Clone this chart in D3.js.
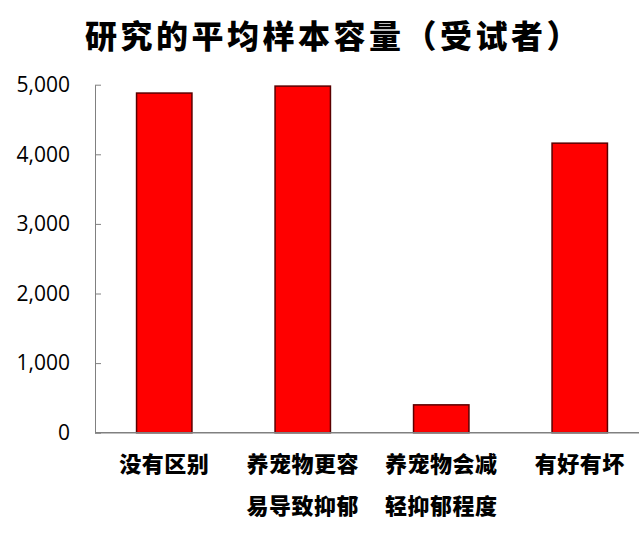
<!DOCTYPE html>
<html>
<head>
<meta charset="utf-8">
<script src="https://cdn.jsdelivr.net/npm/d3@7/dist/d3.min.js"></script>
<style>
html,body{margin:0;padding:0;background:#fff;}
svg{display:block;}
</style>
</head>
<body>
<svg id="chart" width="639" height="538"></svg>
<script>
const title = "研究的平均样本容量（受试者）";
const categories = ["没有区别", "养宠物更容易导致抑郁", "养宠物会减轻抑郁程度", "有好有坏"];
const labelLines = [["没有区别"], ["养宠物更容", "易导致抑郁"], ["养宠物会减", "轻抑郁程度"], ["有好有坏"]];
const values = [4880, 4980, 400, 4160];
const yTicks = [0, 1000, 2000, 3000, 4000, 5000];

const svg = d3.select("#chart");
const W = 639, H = 538;
const plotLeft = 95, plotRight = 649, plotTop = 84.7, plotBottom = 432.7;

const x = d3.scaleBand().domain(categories).range([plotLeft, plotRight]).paddingInner(0.6).paddingOuter(0.3);
const y = d3.scaleLinear().domain([0, 5000]).range([plotBottom, plotTop]);

// title
svg.append("text")
  .attr("x", 85).attr("y", 34)
  .attr("dominant-baseline", "central")
  .attr("font-family", "'Noto Sans CJK SC', sans-serif")
  .attr("font-weight", 900)
  .attr("font-size", 32)
  .attr("letter-spacing", 3.5)
  .attr("fill", "#000")
  .text(title);

// y axis
const yAxis = d3.axisLeft(y).tickValues(yTicks).tickFormat(d3.format(",")).tickSizeInner(-6).tickSizeOuter(0).tickPadding(25);
const ga = svg.append("g").attr("transform", `translate(${plotLeft},0)`).call(yAxis);
ga.select(".domain").attr("stroke", "#808080").attr("stroke-width", 1);
ga.selectAll(".tick line").attr("stroke", "#808080").attr("stroke-width", 1);
ga.selectAll(".tick text")
  .attr("font-family", "'Open Sans', sans-serif")
  .attr("font-size", 21)
  .attr("fill", "#000");

// bars
svg.append("g").selectAll("rect").data(values).join("rect")
  .attr("x", (d, i) => x(categories[i]))
  .attr("width", x.bandwidth())
  .attr("y", d => y(d))
  .attr("height", d => y(0) - y(d))
  .attr("fill", "#ff0000")
  .attr("stroke", "#5a0000")
  .attr("stroke-width", 1.5);

// baseline
svg.append("line")
  .attr("x1", plotLeft).attr("x2", W)
  .attr("y1", y(0)).attr("y2", y(0))
  .attr("stroke", "#808080").attr("stroke-width", 1.5);

// category labels
const lg = svg.append("g");
labelLines.forEach((lines, i) => {
  const cx = x(categories[i]) + x.bandwidth() / 2;
  lines.forEach((ln, j) => {
    lg.append("text")
      .attr("x", cx).attr("y", 462 + j * 42)
      .attr("text-anchor", "middle")
      .attr("dominant-baseline", "central")
      .attr("font-family", "'Noto Sans CJK SC', sans-serif")
      .attr("font-weight", 900)
      .attr("font-size", 22)
      .attr("letter-spacing", 0.5)
      .attr("fill", "#000")
      .text(ln);
  });
});
</script>
</body>
</html>
